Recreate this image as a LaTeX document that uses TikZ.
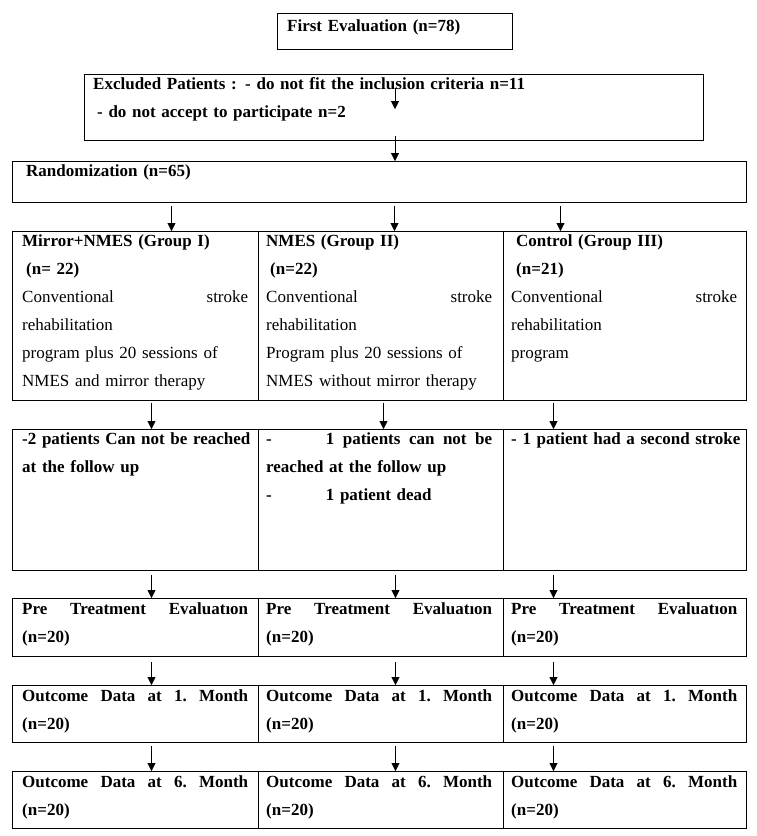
\documentclass[tikz,border=0pt]{standalone}
\usepackage{fontspec}
\setmainfont{Liberation Serif}
\usetikzlibrary{arrows.meta,positioning}

\begin{document}
\begin{tikzpicture}[x=1pt,y=-1pt,>={Triangle[width=8pt,length=8pt]},
	box/.style={draw,line width=1pt,inner sep=0pt,anchor=north west},
	txt/.style={anchor=base west,inner sep=0pt,text width=226pt,align=left,font=\fontsize{17}{28}\selectfont},
	btxt/.style={txt,font=\fontsize{17}{28}\selectfont\bfseries}]
	\useasboundingbox (0,0) rectangle (757,836);

	% top boxes
	\node(first)[box,minimum width=235pt,minimum height=36pt] at (277,13){};
	\node(excl)[box,minimum width=619pt,minimum height=66pt] at (84,74){};
	\node(rand)[box,minimum width=734pt,minimum height=41pt] at (12,161){};
	\node(tfirst)[btxt] at ([shift={(10,18)}]first.north west){First Evaluation (n=78)};
	\node(texcl)[btxt,text width=600pt] at ([shift={(9,15)}]excl.north west){Excluded Patients : - do not fit the inclusion criteria n=11\\
		\hspace*{4pt}- do not accept to participate n=2};
	\node(trand)[btxt] at ([shift={(14,15)}]rand.north west){Randomization (n=65)};

	% groups
	\node(g1)[box,minimum width=246pt,minimum height=169pt] at (12,231){};
	\node(g2)[box,minimum width=245pt,minimum height=169pt] at (258,231){};
	\node(g3)[box,minimum width=243pt,minimum height=169pt] at (503,231){};
	\node(tg1)[txt] at ([shift={(10,15)}]g1.north west){\textbf{Mirror+NMES (Group I)}\\
		\hspace*{4pt}\textbf{(n= 22)}\\
		Conventional\hfill stroke\\
		rehabilitation\\
		program plus 20 sessions of\\
		NMES and mirror therapy};
	\node(tg2)[txt] at ([shift={(8,15)}]g2.north west){\textbf{NMES (Group II)}\\
		\hspace*{4pt}\textbf{(n=22)}\\
		Conventional\hfill stroke\\
		rehabilitation\\
		Program plus 20 sessions of\\
		NMES without mirror therapy};
	\node(tg3)[txt] at ([shift={(8,15)}]g3.north west){\hspace*{5pt}\textbf{Control (Group III)}\\
		\hspace*{5pt}\textbf{(n=21)}\\
		Conventional\hfill stroke\\
		rehabilitation\\
		program};

	% drop outs
	\node(d1)[box,minimum width=246pt,minimum height=141pt] at (12,429){};
	\node(d2)[box,minimum width=245pt,minimum height=141pt] at (258,429){};
	\node(d3)[box,minimum width=243pt,minimum height=141pt] at (503,429){};
	\node(td1)[btxt,text width=240pt] at ([shift={(10,15)}]d1.north west){-2 patients Can not be reached\\
		at the follow up};
	\node(td2)[btxt] at ([shift={(8,15)}]d2.north west){-\hspace{54pt}1\hfill patients\hfill can\hfill not\hfill be\\
		reached at the follow up\\
		-\hspace{54pt}1 patient dead};
	\node(td3)[btxt,text width=230pt] at ([shift={(8,15)}]d3.north west){- 1 patient had a second stroke};

	% evaluations
	\node(p1)[box,minimum width=246pt,minimum height=58pt] at (12,598){};
	\node(p2)[box,minimum width=245pt,minimum height=58pt] at (258,598){};
	\node(p3)[box,minimum width=243pt,minimum height=58pt] at (503,598){};
	\node(m1)[box,minimum width=246pt,minimum height=57pt] at (12,685){};
	\node(m2)[box,minimum width=245pt,minimum height=57pt] at (258,685){};
	\node(m3)[box,minimum width=243pt,minimum height=57pt] at (503,685){};
	\node(s1)[box,minimum width=246pt,minimum height=57pt] at (12,771){};
	\node(s2)[box,minimum width=245pt,minimum height=57pt] at (258,771){};
	\node(s3)[box,minimum width=243pt,minimum height=57pt] at (503,771){};
	\node(tp1)[btxt] at ([shift={(10,16)}]p1.north west){Pre\hfill Treatment\hfill Evaluatıon\\(n=20)};
	\node(tp2)[btxt] at ([shift={(8,16)}]p2.north west){Pre\hfill Treatment\hfill Evaluatıon\\(n=20)};
	\node(tp3)[btxt] at ([shift={(8,16)}]p3.north west){Pre\hfill Treatment\hfill Evaluatıon\\(n=20)};
	\node(tm1)[btxt] at ([shift={(10,16)}]m1.north west){Outcome\hfill Data\hfill at\hfill 1.\hfill Month\\(n=20)};
	\node(tm2)[btxt] at ([shift={(8,16)}]m2.north west){Outcome\hfill Data\hfill at\hfill 1.\hfill Month\\(n=20)};
	\node(tm3)[btxt] at ([shift={(8,16)}]m3.north west){Outcome\hfill Data\hfill at\hfill 1.\hfill Month\\(n=20)};
	\node(ts1)[btxt] at ([shift={(10,16)}]s1.north west){Outcome\hfill Data\hfill at\hfill 6.\hfill Month\\(n=20)};
	\node(ts2)[btxt] at ([shift={(8,16)}]s2.north west){Outcome\hfill Data\hfill at\hfill 6.\hfill Month\\(n=20)};
	\node(ts3)[btxt] at ([shift={(8,16)}]s3.north west){Outcome\hfill Data\hfill at\hfill 6.\hfill Month\\(n=20)};

	% arrows
	\draw[->,shorten <=38pt,shorten >=-35pt] (first.south) -- (first.south |- excl.north);
	\draw[->,shorten <=-5pt] (first.south |- excl.south) -- (first.south |- rand.north);
	\draw[->,shorten <=3pt] ([xshift=36pt]g1.north |- rand.south) -- ([xshift=36pt]g1.north);
	\draw[->,shorten <=3pt] ([xshift=13.5pt]g2.north |- rand.south) -- ([xshift=13.5pt]g2.north);
	\draw[->,shorten <=3pt] ([xshift=-64.5pt]g3.north |- rand.south) -- ([xshift=-64.5pt]g3.north);
	\draw[->,shorten <=2pt] ([xshift=16pt]g1.south) -- ([xshift=16pt]d1.north);
	\draw[->,shorten <=2pt] ([xshift=2.5pt]g2.south) -- ([xshift=2.5pt]d2.north);
	\draw[->,shorten <=2pt] ([xshift=-71.5pt]g3.south) -- ([xshift=-71.5pt]d3.north);
	\foreach \a/\b/\c in {d/p/4,p/m/5,m/s/3}{
		\draw[->,shorten <=\c pt] ([xshift=16pt]\a1.south) -- ([xshift=16pt]\b1.north);
		\draw[->,shorten <=\c pt] ([xshift=14.5pt]\a2.south) -- ([xshift=14.5pt]\b2.north);
		\draw[->,shorten <=\c pt] ([xshift=-71.5pt]\a3.south) -- ([xshift=-71.5pt]\b3.north);
	}
\end{tikzpicture}
\end{document}
